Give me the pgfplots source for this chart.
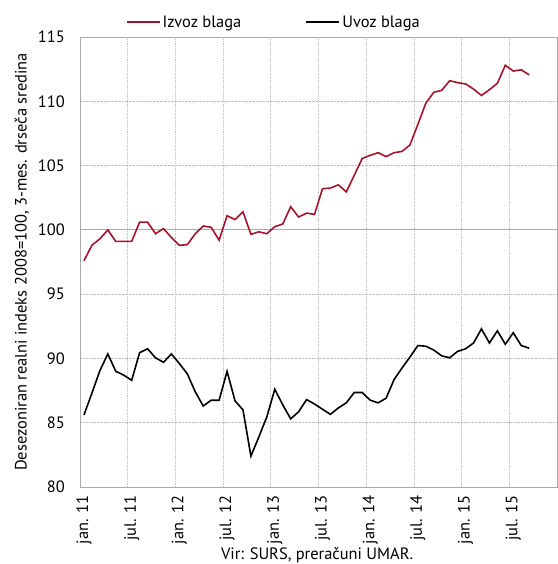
\documentclass[border=0pt]{standalone}
\usepackage{pgfplots}
\pgfplotsset{compat=1.18}
\usepackage{fontspec}
\setmainfont{PT Sans}
\definecolor{izvoz}{RGB}{166,18,44}
\definecolor{gridc}{RGB}{190,190,190}
\definecolor{axc}{RGB}{170,170,170}
\begin{document}
\begin{tikzpicture}
\useasboundingbox (-80bp,-77bp) rectangle (478bp,487bp);
\begin{axis}[
  at={(0,0)}, anchor=south west,
  scale only axis, width=477bp, height=450bp,
  xmin=-0.5, xmax=59.5, ymin=80, ymax=115,
  clip=false,
  font=\fontsize{16.5}{19}\selectfont,
  /pgf/number format/assume math mode=true,
  axis line style={axc, line width=0.9bp},
  xtick={0,6,12,18,24,30,36,42,48,54},
  xticklabels={jan. 11,jul. 11,jan. 12,jul. 12,jan. 13,jul. 13,jan. 14,jul. 14,jan. 15,jul. 15},
  minor xtick={5.5,11.5,17.5,23.5,29.5,35.5,41.5,47.5,53.5},
  xminorgrids, xmajorgrids=false,
  ytick={80,85,90,95,100,105,110,115},
  ymajorgrids,
  major tick length=0pt, minor tick length=0pt,
  grid style={gridc, densely dotted, line width=0.8bp},
  minor grid style={gridc, densely dotted, line width=0.8bp},
  x tick label style={rotate=90, anchor=east, inner sep=0pt, xshift=-8bp},
  y tick label style={anchor=east, inner sep=0pt, xshift=-15bp},
  ylabel={Desezoniran realni indeks 2008=100, 3-mes. drseča sredina},
  ylabel style={at={(axis description cs:-0.122,0.5)}, anchor=center, rotate=0},
  legend style={draw=none, fill=none, at={(axis description cs:0.095,1.0)}, anchor=south west,
    legend columns=2, column sep=0bp, yshift=6bp, inner sep=0pt,
    /tikz/every even column/.append style={column sep=62bp}},
  legend cell align=left,
  legend image code/.code={\draw[#1, line width=2bp] (0bp,0bp) -- (33bp,0bp);},
]
\draw[axc, line width=0.9bp] (axis cs:-0.5,100) -- (axis cs:59.5,100);
\addplot[izvoz, line width=1.6bp] coordinates {
(0,97.6) (1,98.8) (2,99.3) (3,100.0) (4,99.1) (5,99.1) (6,99.1) (7,100.6) (8,100.6) (9,99.7)
(10,100.1) (11,99.4) (12,98.8) (13,98.85) (14,99.7) (15,100.3) (16,100.2) (17,99.2) (18,101.1) (19,100.8)
(20,101.4) (21,99.65) (22,99.85) (23,99.7) (24,100.25) (25,100.45) (26,101.8) (27,101.0) (28,101.3) (29,101.2)
(30,103.2) (31,103.25) (32,103.5) (33,102.95) (34,104.25) (35,105.55) (36,105.8) (37,106.0) (38,105.7) (39,106.0)
(40,106.1) (41,106.6) (42,108.2) (43,109.85) (44,110.7) (45,110.85) (46,111.6) (47,111.45) (48,111.35) (49,110.95)
(50,110.45) (51,110.9) (52,111.4) (53,112.8) (54,112.35) (55,112.45) (56,112.05)
};
\addlegendentry{Izvoz blaga}
\addplot[black, line width=1.6bp] coordinates {
(0,85.6) (1,87.3) (2,89.05) (3,90.35) (4,89.0) (5,88.7) (6,88.3) (7,90.45) (8,90.75) (9,90.05)
(10,89.7) (11,90.35) (12,89.6) (13,88.8) (14,87.4) (15,86.3) (16,86.75) (17,86.75) (18,89.0) (19,86.7)
(20,86.0) (21,82.4) (22,83.9) (23,85.45) (24,87.6) (25,86.4) (26,85.3) (27,85.85) (28,86.8) (29,86.45)
(30,86.05) (31,85.65) (32,86.15) (33,86.55) (34,87.35) (35,87.35) (36,86.75) (37,86.55) (38,86.9) (39,88.35)
(40,89.25) (41,90.1) (42,91.0) (43,90.95) (44,90.65) (45,90.2) (46,90.05) (47,90.55) (48,90.75) (49,91.2)
(50,92.3) (51,91.2) (52,92.15) (53,91.1) (54,92.0) (55,91.0) (56,90.8)
};
\addlegendentry{Uvoz blaga}
\node[font=\fontsize{16.5}{19}\selectfont, anchor=center] at (axis description cs:0.497,-0.151) {Vir: SURS, preračuni UMAR.};
\end{axis}
\end{tikzpicture}
\end{document}
